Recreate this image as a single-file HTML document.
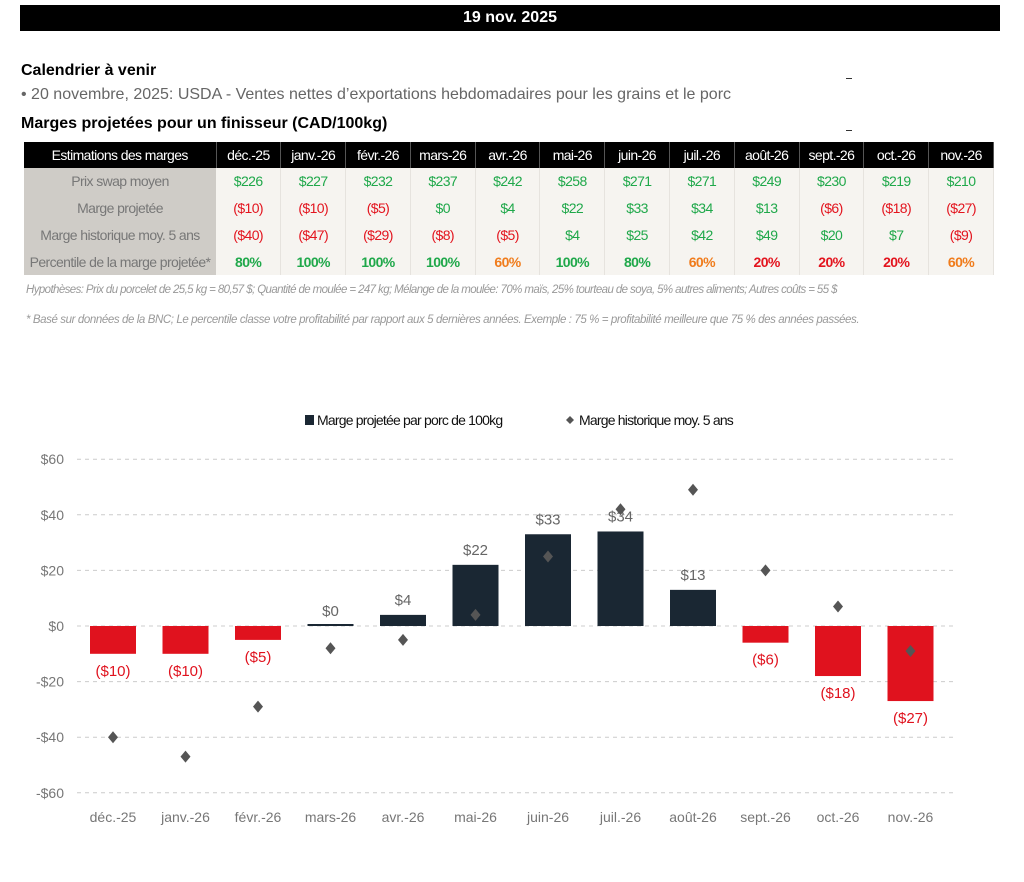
<!DOCTYPE html>
<html><head><meta charset="utf-8"><style>
body{margin:0;width:1024px;height:882px;background:#fff;font-family:"Liberation Sans",sans-serif;position:relative;overflow:hidden}
.abs{position:absolute}
table{border-collapse:collapse;table-layout:fixed}
td,th{font-family:"Liberation Sans",sans-serif;font-size:14px;text-align:center;padding:0;height:26.75px;letter-spacing:-0.6px}
th{background:#000;color:#fff;font-weight:normal;height:26px;font-size:14px;border-right:1px solid #555}
td.l{background:#cfccc7;color:#777;}
td.v{background:#f6f4f0;border-right:1px solid #e6e3de}
.g{color:#1fa84a}.r{color:#e3141e}.o{color:#f07c1c}
.b{font-weight:bold}
</style></head><body>
<div class="abs" style="left:20px;top:5px;width:980px;height:26px;background:#000;color:#fff;font-weight:bold;font-size:16px;text-align:center;line-height:26px">19 nov. 2025</div>
<div class="abs" style="left:21px;top:62px;font-size:16px;font-weight:bold">Calendrier à venir</div>
<div class="abs" style="left:21px;top:86px;font-size:16px;color:#666">• 20 novembre, 2025: USDA - Ventes nettes d’exportations hebdomadaires pour les grains et le porc</div>
<div class="abs" style="left:21px;top:115px;font-size:16px;font-weight:bold">Marges projetées pour un finisseur (CAD/100kg)</div>
<div class="abs" style="left:846px;top:78px;width:6px;height:1px;background:#333"></div>
<div class="abs" style="left:846px;top:130px;width:6px;height:1px;background:#333"></div>
<table class="abs" style="left:24px;top:142px;width:970px">
<colgroup><col style="width:192px"><col span="12"></colgroup>
<tr><th>Estimations des marges</th><th>déc.-25</th><th>janv.-26</th><th>févr.-26</th><th>mars-26</th><th>avr.-26</th><th>mai-26</th><th>juin-26</th><th>juil.-26</th><th>août-26</th><th>sept.-26</th><th>oct.-26</th><th>nov.-26</th></tr>
<tr><td class="l">Prix swap moyen</td><td class="v g">$226</td><td class="v g">$227</td><td class="v g">$232</td><td class="v g">$237</td><td class="v g">$242</td><td class="v g">$258</td><td class="v g">$271</td><td class="v g">$271</td><td class="v g">$249</td><td class="v g">$230</td><td class="v g">$219</td><td class="v g">$210</td></tr>
<tr><td class="l">Marge projetée</td><td class="v r">($10)</td><td class="v r">($10)</td><td class="v r">($5)</td><td class="v g">$0</td><td class="v g">$4</td><td class="v g">$22</td><td class="v g">$33</td><td class="v g">$34</td><td class="v g">$13</td><td class="v r">($6)</td><td class="v r">($18)</td><td class="v r">($27)</td></tr>
<tr><td class="l">Marge historique moy. 5 ans</td><td class="v r">($40)</td><td class="v r">($47)</td><td class="v r">($29)</td><td class="v r">($8)</td><td class="v r">($5)</td><td class="v g">$4</td><td class="v g">$25</td><td class="v g">$42</td><td class="v g">$49</td><td class="v g">$20</td><td class="v g">$7</td><td class="v r">($9)</td></tr>
<tr><td class="l">Percentile de la marge projetée*</td><td class="v g b">80%</td><td class="v g b">100%</td><td class="v g b">100%</td><td class="v g b">100%</td><td class="v o b">60%</td><td class="v g b">100%</td><td class="v g b">80%</td><td class="v o b">60%</td><td class="v r b">20%</td><td class="v r b">20%</td><td class="v r b">20%</td><td class="v o b">60%</td></tr>
</table>
<div class="abs" style="left:26px;top:284px;font-size:11.5px;color:#999;font-style:italic;letter-spacing:-0.6px">Hypothèses: Prix du porcelet de 25,5 kg = 80,57 $; Quantité de moulée = 247 kg; Mélange de la moulée: 70% maïs, 25% tourteau de soya, 5% autres aliments; Autres coûts = 55 $</div>
<div class="abs" style="left:26px;top:314px;font-size:11.5px;color:#999;font-style:italic;letter-spacing:-0.4px">* Basé sur données de la BNC; Le percentile classe votre profitabilité par rapport aux 5 dernières années. Exemple : 75 % = profitabilité meilleure que 75 % des années passées.</div>
<svg class="abs" id="chart" style="left:0;top:0" width="1024" height="882"></svg>
<script>
const categories=["déc.-25","janv.-26","févr.-26","mars-26","avr.-26","mai-26","juin-26","juil.-26","août-26","sept.-26","oct.-26","nov.-26"];
const projected=[-10,-10,-5,0,4,22,33,34,13,-6,-18,-27];
const historic=[-40,-47,-29,-8,-5,4,25,42,49,20,7,-9];
const ticks=[60,40,20,0,-20,-40,-60];
const tickLabels=["$60","$40","$20","$0","-$20","-$40","-$60"];
const svg=document.getElementById('chart');const NS="http://www.w3.org/2000/svg";
const y=v=>626-v*2.78;const x=i=>113+i*72.5;
function mk(t,a){const e=document.createElementNS(NS,t);for(const k in a)e.setAttribute(k,a[k]);svg.appendChild(e);return e;}
const fmt=v=>v<0?"($"+(-v)+")":"$"+v;
ticks.forEach((t,i)=>{
const g=mk('line',{x1:77,x2:955,y1:y(t),y2:y(t),stroke:'#ccc','stroke-dasharray':'4,4'});


const l=mk('text',{x:64,y:y(t)+5,'text-anchor':'end','font-size':14,fill:'#777','font-family':'Liberation Sans'});l.textContent=tickLabels[i];


});
categories.forEach((c,i)=>{
const v=projected[i];const neg=v<0;
const h=Math.max(Math.abs(v)*2.78,2);
const b=mk('rect',{x:x(i)-23,width:46,y:v>=0?y(v)-(v==0?2:0):y(0),height:h,fill:neg?'#e0121e':'#1a2733'});


const lt=mk('text',{x:x(i),y:neg?y(v)+22:y(v)-10,'text-anchor':'middle','font-size':15,fill:neg?'#e0121e':'#666','font-family':'Liberation Sans'});lt.textContent=fmt(v);


const hy=y(historic[i]);
const d=mk('polygon',{points:`${x(i)},${hy-6} ${x(i)+5},${hy} ${x(i)},${hy+6} ${x(i)-5},${hy}`,fill:'#555'});


const cl=mk('text',{x:x(i),y:822,'text-anchor':'middle','font-size':14,fill:'#777','font-family':'Liberation Sans'});cl.textContent=c;


});
const lg1=mk('rect',{x:305,y:415,width:9,height:10,fill:'#1a2733'});


const t1=mk('text',{x:317,y:425,'font-size':14,fill:'#111','font-family':'Liberation Sans','letter-spacing':'-0.8'});t1.textContent="Marge projetée par porc de 100kg";


const lg2=mk('polygon',{points:'570,416 574,420 570,424 566,420',fill:'#555'});


const t2=mk('text',{x:579,y:425,'font-size':14,fill:'#111','font-family':'Liberation Sans','letter-spacing':'-0.8'});t2.textContent="Marge historique moy. 5 ans";


</script>
</body></html>
